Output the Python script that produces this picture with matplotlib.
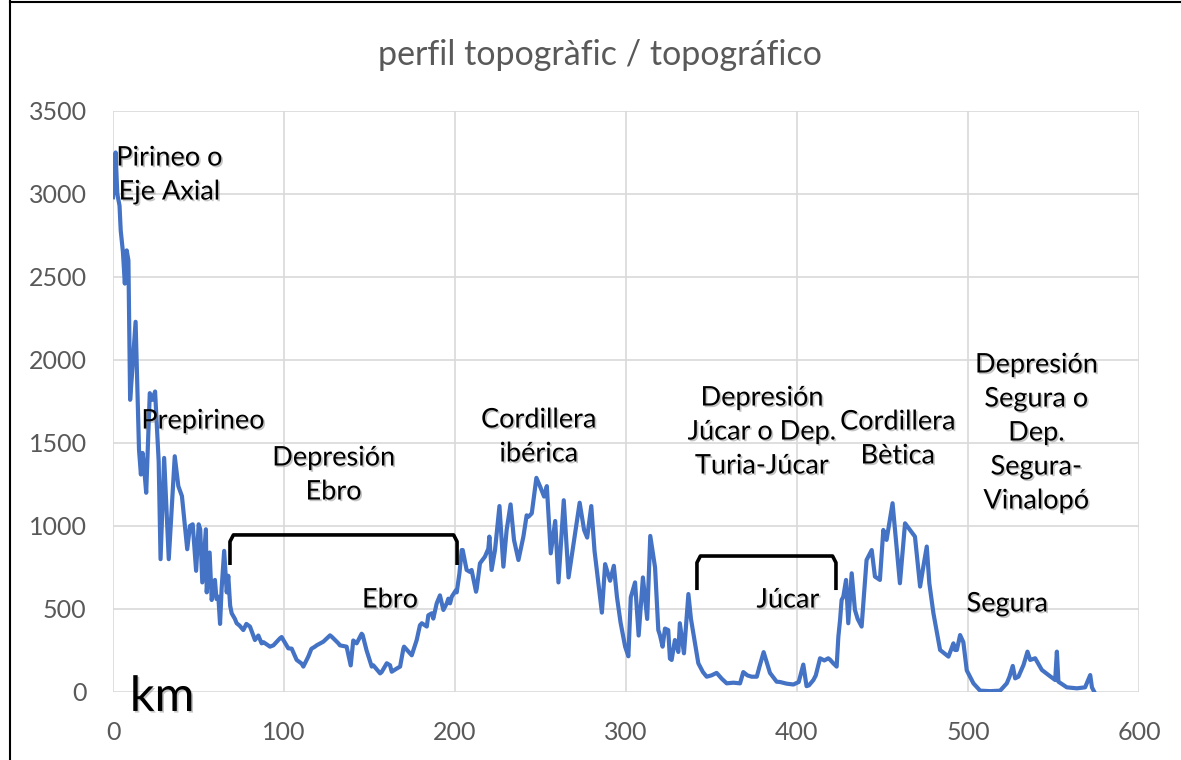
import numpy as np
import matplotlib
matplotlib.use('Agg')
import matplotlib.pyplot as plt
import matplotlib.patheffects as pe

plt.rcParams['font.family'] = ['Lato', 'DejaVu Sans']

# perfil topografico: distancia (km) y altitud (m)
km = [0, 1.5, 2.5, 3.8, 4.5, 5.8, 6.9, 8.0, 9.0, 10.0, 11.0, 13.2, 15.2, 16.3, 17.3, 18.2,
      19.4, 21.5, 23.0, 24.6, 26.7, 27.8, 29.9, 32.6, 36.1, 38.2, 40.3, 43.4, 45.0, 46.6,
      48.6, 50.1, 51.0, 52.2, 54.3, 54.8, 56.5, 57.7, 59.6, 60.5, 61.6, 62.6, 63.5, 65.0,
      66.5, 67.4, 68.5, 69.4, 71.3, 72.3, 74.0, 76.2, 78.0, 80.1, 83.0, 85.0, 86.9, 88.0,
      91.8, 93.8, 97.6, 98.6, 102.5, 104.5, 107.4, 110.3, 111.3, 114.2, 116.0, 118.1, 119.1,
      123.0, 126.9, 127.9, 131.8, 132.7, 136.6, 139.0, 140.5, 142.5, 145.4, 146.0, 148.3,
      151.3, 152.2, 156.2, 157.1, 160.1, 162.0, 163.0, 165.9, 167.9, 169.8, 170.2, 173.7,
      174.7, 177.6, 179.5, 180.6, 183.5, 184.4, 186.4, 187.3, 189.3, 191.2, 193.2, 195.2,
      196.1, 197.1, 198.1, 200.6, 201.0, 202.6, 203.9, 204.5, 206.8, 208.8, 209.7, 212.3,
      212.7, 214.6, 217.5, 219.5, 220.1, 221.4, 223.4, 226.0, 228.3, 230.2, 232.5, 234.5,
      237.1, 240.0, 241.9, 243.0, 244.9, 247.6, 249.8, 252.1, 253.7, 256.0, 258.6, 260.5,
      263.6, 266.4, 269.3, 272.9, 275.5, 277.3, 279.7, 281.6, 285.9, 287.8, 290.7, 292.9,
      294.7, 296.8, 299.5, 301.4, 302.8, 305.3, 307.4, 309.9, 312.4, 314.2, 317.0, 318.9,
      319.9, 321.4, 322.8, 324.7, 325.7, 326.7, 328.6, 330.6, 331.5, 333.9, 336.5, 338.0,
      339.4, 342.3, 345.0, 347.2, 350.0, 353.0, 356.0, 358.9, 362.8, 366.7, 368.6, 371.0,
      373.5, 376.5, 378.0, 380.5, 382.0, 384.2, 388.1, 390.1, 394.0, 397.9, 401.0, 403.7,
      405.6, 407.0, 409.6, 411.0, 413.5, 416.0, 418.3, 419.3, 421.2, 423.2, 424.2, 425.2,
      426.1, 427.1, 428.7, 430.0, 432.0, 433.9, 435.5, 437.8, 440.7, 443.7, 445.6, 448.5,
      450.5, 452.4, 455.9, 457.9, 460.2, 463.2, 466.1, 469.0, 472.0, 473.9, 475.9, 477.4,
      479.8, 483.7, 488.6, 491.5, 492.4, 493.5, 495.4, 497.3, 499.3, 502.2, 503.2, 507.1,
      513.0, 518.8, 522.7, 524.3, 526.2, 527.6, 529.5, 532.5, 534.8, 536.4, 539.3, 543.2,
      547.1, 551.0, 552.0, 552.9, 557.8, 563.7, 568.5, 571.5, 572.5, 573.8]
alt = [2980, 3250, 3000, 2930, 2780, 2650, 2460, 2660, 2600, 1760, 1900, 2230, 1460, 1310, 1440, 1350,
       1200, 1800, 1760, 1810, 1390, 800, 1410, 800, 1420, 1240, 1180, 860, 1000, 1010,
       730, 1010, 980, 660, 980, 600, 840, 554, 675, 560, 574, 410, 620, 850,
       600, 700, 520, 474, 440, 414, 400, 373, 410, 394, 313, 340, 293, 300,
       273, 281, 323, 331, 263, 261, 193, 171, 153, 213, 260, 273, 281,
       303, 341, 333, 293, 281, 273, 160, 310, 293, 351, 343, 250,
       153, 161, 112, 120, 173, 161, 122, 141, 153, 261, 273, 233,
       221, 313, 402, 414, 394, 462, 474, 442, 534, 582, 494, 534,
       562, 534, 574, 614, 600, 715, 855, 855, 735, 723, 735, 604,
       622, 775, 815, 863, 936, 735, 855, 1120, 755, 976, 1130, 916,
       795, 936, 1064, 1056, 1076, 1290, 1237, 1177, 1240, 835, 1030, 660,
       1155, 690, 890, 1140, 976, 930, 1120, 850, 478, 770, 670, 760,
       574, 420, 273, 215, 570, 660, 340, 690, 440, 940, 750, 373,
       341, 273, 382, 373, 201, 193, 313, 241, 414, 233, 590, 440,
       353, 173, 120, 92, 100, 115, 80, 52, 56, 52, 120, 100,
       92, 92, 150, 240, 190, 115, 62, 60, 50, 45, 60, 165,
       35, 40, 72, 100, 203, 190, 203, 195, 173, 153, 333, 434,
       554, 574, 675, 414, 715, 494, 440, 394, 795, 855, 695, 675,
       976, 916, 1137, 916, 655, 1016, 976, 936, 635, 755, 876, 655,
       474, 253, 213, 293, 253, 253, 343, 300, 130, 72, 52, 8,
       5, 8, 52, 92, 157, 82, 92, 163, 243, 193, 203, 133,
       102, 72, 243, 62, 28, 22, 28, 102, 28, 2]

# etiquetas de las unidades de relieve
etiquetas = ['Pirineo o\nEje Axial', 'Prepirineo', 'Depresión\nEbro', 'Ebro',
             'Cordillera\nibérica', 'Depresión\nJúcar o Dep.\nTuria-Júcar', 'Júcar',
             'Cordillera\nBètica', 'Depresión\nSegura o\nDep.\nSegura-\nVinalopó', 'Segura']
etiq_x = [33, 52.6, 129, 162, 249, 379.5, 394.7, 459, 540, 523]
etiq_y = [3114, 1632, 1307, 554, 1536, 1566, 554, 1524, 1560, 530]

# corchetes (inicio, fin, altura arriba, altura abajo)
corchetes = [(68.4, 201.2, 946, 765), (341.5, 422.8, 819, 614)]

fig = plt.figure(figsize=(11.81, 7.6), dpi=100)
ax = fig.add_axes([0.0957, 0.0895, 0.8687, 0.7645])

ax.plot(km, alt, color='#4472C4', lw=3.0, solid_joinstyle='round', zorder=3)

ax.set_xlim(0, 600)
ax.set_ylim(0, 3500)
ax.set_xticks(np.arange(0, 601, 100))
ax.set_yticks(np.arange(0, 3501, 500))
ax.grid(True, color='#D9D9D9', lw=1.2)
ax.set_axisbelow(True)
for s in ax.spines.values():
    s.set_visible(False)
ax.tick_params(length=0, labelsize=18, labelcolor='#595959')
ax.tick_params(axis='x', pad=21)
ax.tick_params(axis='y', pad=19)

sombra = [pe.SimplePatchShadow(offset=(1.2, -1.2), shadow_rgbFace='#808080', alpha=0.45), pe.Normal()]
for t, x, y in zip(etiquetas, etiq_x, etiq_y):
    ax.text(x, y, t, ha='center', va='center', fontsize=19.5, color='black',
            linespacing=1.45, path_effects=sombra, zorder=4)

ax.text(28.7, -30, 'km', ha='center', va='center', fontsize=35, color='black',
        path_effects=sombra, clip_on=False, zorder=4)

for x0, x1, yt, yb in corchetes:
    dx = 2.0
    dy = 40
    ax.plot([x0, x0, x0 + dx, x1 - dx, x1, x1], [yb, yt - dy, yt, yt, yt - dy, yb],
            color='black', lw=2.6, solid_joinstyle='round', solid_capstyle='butt', zorder=4)

fig.text(0.508, 0.928, 'perfil topogràfic / topográfico', ha='center', va='center',
         fontsize=24.5, color='#595959')

# marco del grafico
fig.add_artist(plt.Line2D([10 / 1181, 10 / 1181], [0, 1], color='black', lw=1.5))
fig.add_artist(plt.Line2D([10 / 1181, 1], [1 - 2 / 760, 1 - 2 / 760], color='black', lw=1.5))

fig.savefig('out.png', dpi=100)
